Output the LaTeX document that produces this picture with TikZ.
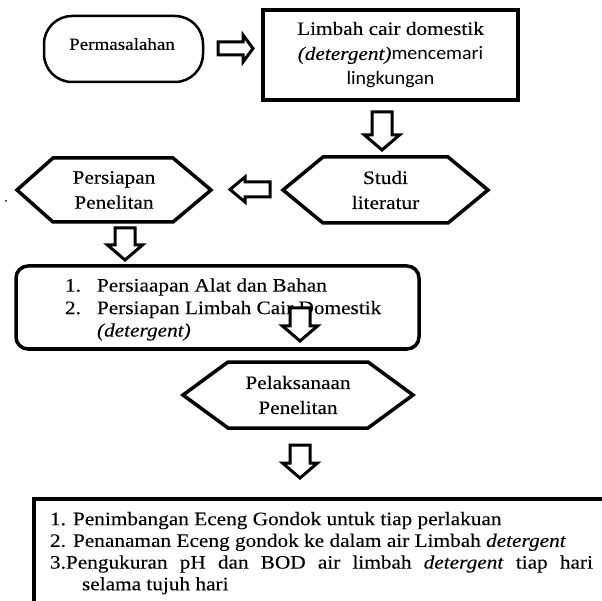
\documentclass[tikz,border=0pt]{standalone}
\usepackage{fontspec}
\setmainfont{Liberation Serif}[FakeStretch=1.12,FakeBold=0.12]
\newfontfamily\calibri{Carlito}[FakeStretch=1.05]
\usetikzlibrary{calc}
\begin{document}
\begin{tikzpicture}[x=1pt,y=-1pt,
  txt/.style={font=\fontsize{19}{25}\selectfont, inner sep=0pt, outer sep=0pt, align=center},
  frame/.style={draw=black, inner sep=0pt, outer sep=0pt},
  hexline/.style={draw=black, line width=3.5pt, line join=miter},
  blk/.style={draw=black, line width=3pt, fill=white, line join=miter},
  pics/darrow/.style={code={\draw[blk] (-10,0) -- (10,0) -- (10,#1-15) -- (17.5,#1-15) -- (0,#1) -- (-17.5,#1-15) -- (-10,#1-15) -- cycle;}},
  ]
\useasboundingbox (0,0) rectangle (602,601);
\clip (0,0) rectangle (602,601);
\fill[white] (0,0) rectangle (602,601);

% Permasalahan
\node[frame, line width=2.5pt, rounded corners=28pt, minimum width=159pt, minimum height=66pt] (perm) at (123.5,49) {};
\node[txt, font=\fontsize{17}{20}\selectfont] (permt) at (122,44) {Permasalahan};

% Limbah cair domestik
\node[frame, txt, line width=4pt, minimum width=255pt, minimum height=90pt] (limbah) at (390.5,55)
  {Limbah cair domestik\\\textit{(detergent)}{\calibri mencemari}\\{\calibri lingkungan}};

% Studi literatur
\node[txt, minimum width=205pt, minimum height=66pt] (studi) at (385.5,190) {Studi\\literatur};
\draw[hexline] (studi.west) -- ([xshift=40pt]studi.north west) -- ([xshift=-40pt]studi.north east)
  -- (studi.east) -- ([xshift=-40pt]studi.south east) -- ([xshift=40pt]studi.south west) -- cycle;

% Persiapan Penelitan
\node[txt, minimum width=194pt, minimum height=64pt] (persiapan) at (114,190) {Persiapan\\Penelitan};
\draw[hexline] (persiapan.west) -- ([xshift=36pt]persiapan.north west) -- ([xshift=-38pt]persiapan.north east)
  -- (persiapan.east) -- ([xshift=-38pt]persiapan.south east) -- ([xshift=36pt]persiapan.south west) -- cycle;

% Preparation box
\node[frame, line width=3.5pt, rounded corners=12pt, minimum width=403pt, minimum height=83pt] (prep) at (217.5,307.5) {};
\node[txt, align=left, anchor=west, font=\fontsize{19}{22.5}\selectfont] (prept) at (65,309.5)
  {\makebox[32pt][l]{1.}Persiaapan Alat dan Bahan\\\makebox[32pt][l]{2.}Persiapan Limbah Cair Domestik\\\hspace*{32pt}\textit{(detergent)}};

% Pelaksanaan Penelitan
\node[txt, minimum width=230pt, minimum height=66pt] (pelaks) at (298,395) {Pelaksanaan\\Penelitan};
\draw[hexline] (pelaks.west) -- ([xshift=45pt]pelaks.north west) -- ([xshift=-45pt]pelaks.north east)
  -- (pelaks.east) -- ([xshift=-45pt]pelaks.south east) -- ([xshift=45pt]pelaks.south west) -- cycle;

% Execution box
\node[frame, line width=4.5pt, minimum width=610pt, minimum height=150pt, anchor=north west] (exec) at (34,499) {};
\node[txt, align=left, anchor=north west, font=\fontsize{19}{21.7}\selectfont] (exect) at (50,512)
  {1. Penimbangan Eceng Gondok untuk tiap perlakuan\\2. Penanaman Eceng gondok ke dalam air Limbah \textit{detergent}\\\makebox[543pt][s]{3.Pengukuran pH dan BOD air limbah \textit{detergent} tiap hari}\\\hspace*{32pt}selama tujuh hari};

% block arrows
\draw[blk] (218,42) -- (243,42) -- (243,35) -- (253,48.5) -- (243,62) -- (243,55) -- (218,55) -- cycle;
\draw[blk] (270,182) -- (245,182) -- (245,177) -- (230,189.5) -- (245,202) -- (245,197) -- (270,197) -- cycle;
\pic at (382,112) {darrow=38};
\pic at (125,228) {darrow=32};
\pic at (300,308) {darrow=33};
\pic at (300,445) {darrow=33};

% stray dot
\fill[black] (6,201) circle (1pt);
\end{tikzpicture}
\end{document}
